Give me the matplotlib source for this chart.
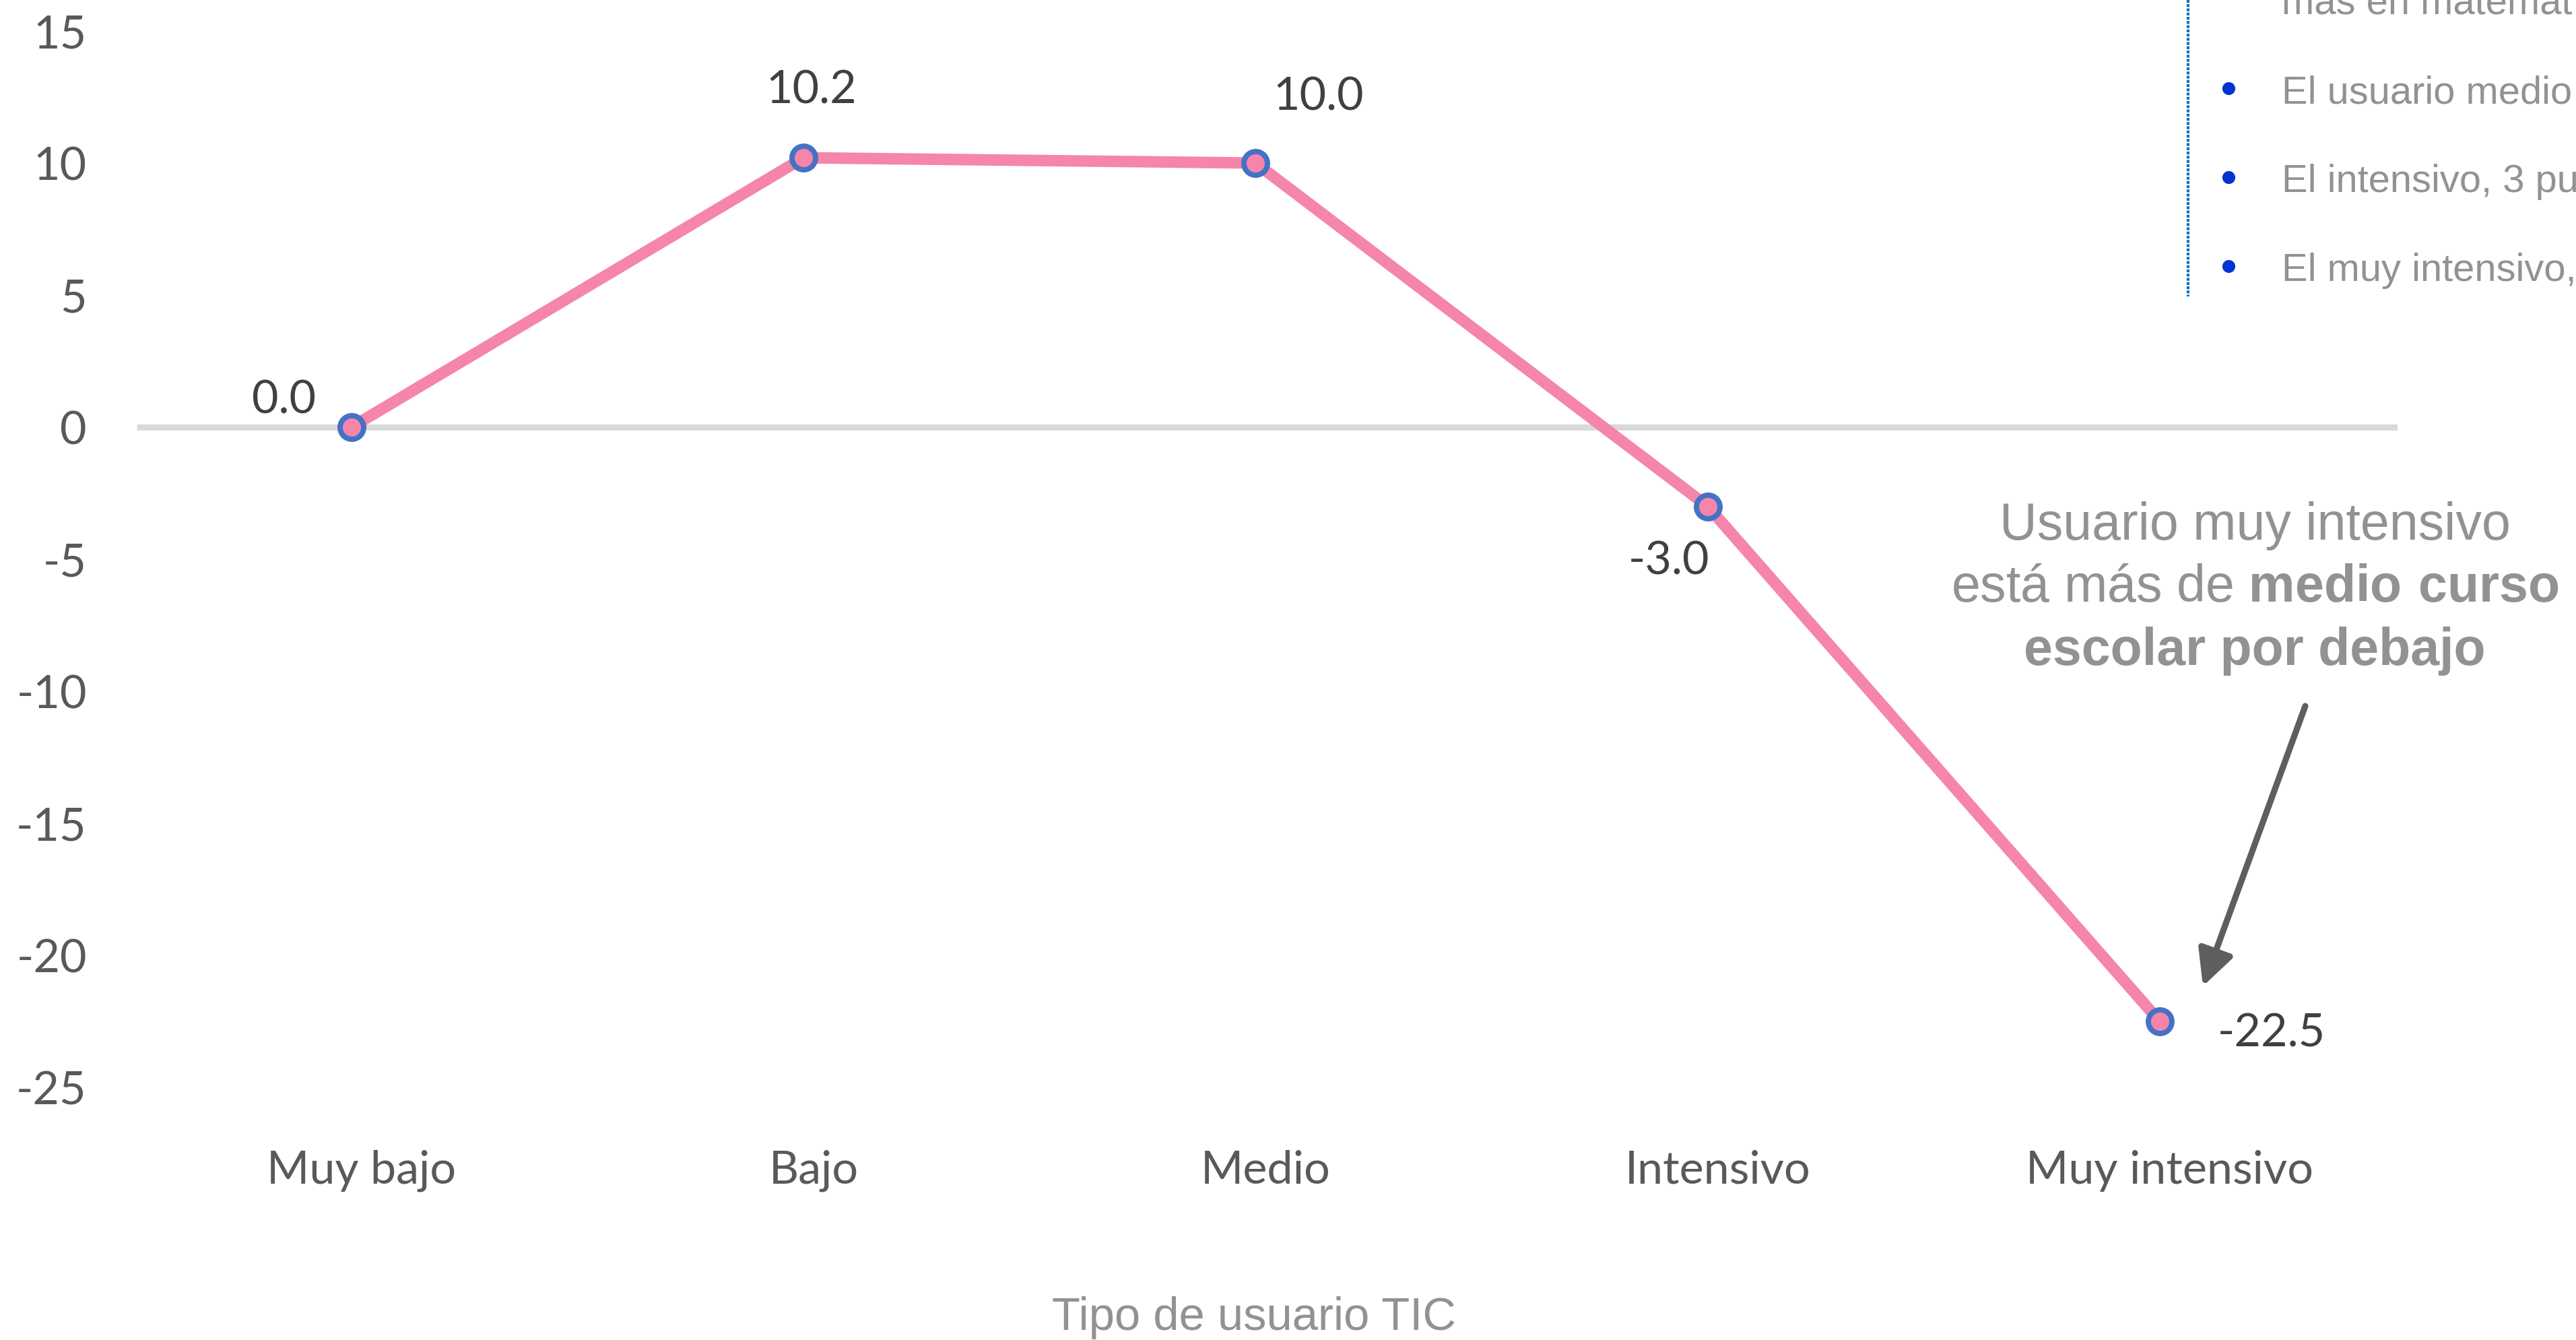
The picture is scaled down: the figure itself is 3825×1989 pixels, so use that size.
#!/usr/bin/env python3
# diferencia en matematicas segun tipo de usuario TIC, recorte de diapositiva

import matplotlib
matplotlib.use("Agg")
import matplotlib.pyplot as plt
from matplotlib.lines import Line2D
from matplotlib.patches import FancyArrowPatch, ArrowStyle
from matplotlib.transforms import ScaledTranslation

plt.rcParams["axes.unicode_minus"] = False
plt.rcParams["mathtext.fontset"] = "custom"
plt.rcParams["mathtext.rm"] = "Liberation Sans"
plt.rcParams["mathtext.bf"] = "Liberation Sans:bold"

CATEGORIES = ["Muy bajo", "Bajo", "Medio", "Intensivo", "Muy intensivo"]
VALUES = [0.0, 10.2, 10.0, -3.0, -22.5]
YTICKS = [-25, -20, -15, -10, -5, 0, 5, 10, 15]
# label offsets (pixels) relative to each point
LABEL_OFFSETS = [(-100, 20), (12, 81), (93, 79), (-58, -101), (166, -37)]

BULLETS = ["El usuario medio", "El intensivo, 3 pu", "El muy intensivo,"]
TOP_LINE = "más en matemát"

PINK = "#F585AA"
BLUE = "#4472C4"
GREY_TXT = "#929292"
CALIBRI = ["Lato", "DejaVu Sans"]
HELV = ["Liberation Sans", "DejaVu Sans"]

W, H, DPI = 3825, 1989, 300
fig = plt.figure(figsize=(W / DPI, H / DPI), dpi=DPI)


def fx(px):
    return px / W


def fy(py):
    return 1 - py / H


ax = fig.add_axes([fx(203), fy(1614), fx(3560) - fx(203), fy(46) - fy(1614)])
xs = list(range(len(CATEGORIES)))
ax.set_xlim(-0.4752, 4.526)
ax.set_ylim(-25, 15)

ax.axhline(0, color="#D9D9D9", lw=2.16, zorder=1, solid_capstyle="butt")
ax.plot(xs, VALUES, color=PINK, lw=4.1, solid_capstyle="round",
        solid_joinstyle="round", zorder=3, clip_on=False)
ax.plot(xs, VALUES, ls="none", marker="o", ms=8.4, mew=1.9,
        mfc=PINK, mec=BLUE, zorder=4, clip_on=False)

for x, v, (dx, dy) in zip(xs, VALUES, LABEL_OFFSETS):
    ax.annotate(f"{v:.1f}", (x, v), xytext=(dx, dy), textcoords="offset pixels",
                ha="center", va="baseline", fontsize=16.4, color="#404040",
                family=CALIBRI)

for s in ax.spines.values():
    s.set_visible(False)
ax.set_yticks(YTICKS)
ax.set_yticklabels([str(t) for t in YTICKS], family=CALIBRI, fontsize=16.4,
                   color="#595959")
ax.set_xticks(xs)
ax.set_xticklabels(CATEGORIES, family=CALIBRI, fontsize=16.4, color="#595959")
ax.tick_params(axis="y", length=0, pad=17.8)
ax.tick_params(axis="x", length=0, pad=22.3)
# category labels sit a little right of the points in the slide
nudge = ScaledTranslation(15 / DPI, 0, fig.dpi_scale_trans)
for lab in ax.get_xticklabels():
    lab.set_transform(lab.get_transform() + nudge)

fig.text(fx(1862), fy(1974), "Tipo de usuario TIC", ha="center",
         va="baseline", fontsize=16.5, color=GREY_TXT, family=HELV)

# callout about the muy intensivo user
fig.text(fx(3348), fy(801), "Usuario muy intensivo", ha="center",
         va="baseline", fontsize=18.5, color=GREY_TXT, family=HELV)
fig.text(fx(3348), fy(893), r"está más de $\mathbf{medio\ curso}$",
         ha="center", va="baseline", fontsize=18.5, color=GREY_TXT,
         family=HELV)
fig.text(fx(3348), fy(987), "escolar por debajo", ha="center",
         va="baseline", fontsize=18.5, color=GREY_TXT, family=HELV,
         fontweight="bold")
arrow = FancyArrowPatch((fx(3423), fy(1048)), (fx(3271), fy(1464)),
                        transform=fig.transFigure,
                        arrowstyle=ArrowStyle("-|>", head_length=10.8,
                                              head_width=5.4),
                        mutation_scale=1, lw=2.2, color="#5E5E5E",
                        shrinkA=0, shrinkB=0)
fig.add_artist(arrow)

# piece of the text box on the right, cut by the slide edge
fig.add_artist(Line2D([fx(3249), fx(3249)], [1, fy(440)],
                      transform=fig.transFigure, color="#0070C0", lw=1.0,
                      ls=(0, (1, 0.5))))
fig.text(fx(3388), fy(21), TOP_LINE, ha="left", va="baseline",
         fontsize=13.9, color=GREY_TXT, family=HELV)
for i, t in enumerate(BULLETS):
    base = 153 + i * 132
    fig.add_artist(Line2D([fx(3309)], [fy(base - 22)], transform=fig.transFigure,
                          marker="o", ms=3.6, color="#0433D0", ls="none"))
    fig.text(fx(3388), fy(base), t, ha="left", va="baseline",
             fontsize=13.9, color=GREY_TXT, family=HELV)

fig.savefig("out.png", dpi=DPI)
